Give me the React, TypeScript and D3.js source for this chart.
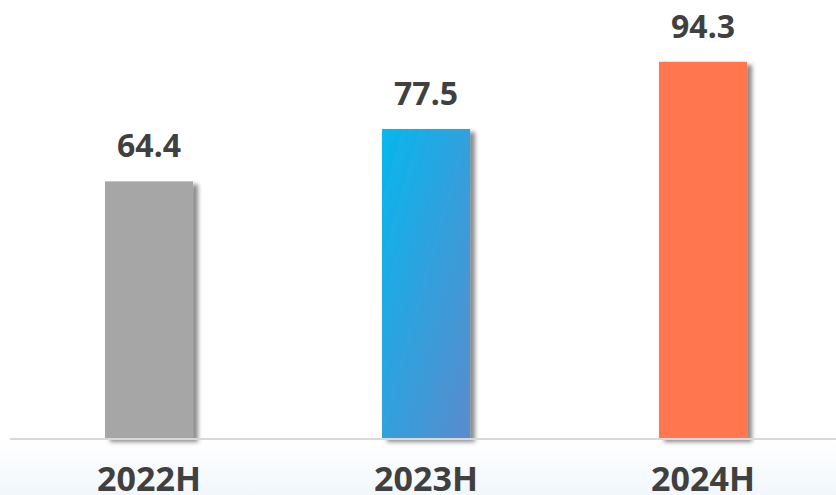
import React from "react";
import * as d3 from "d3";

const categories = ["2022H", "2023H", "2024H"];
const values = [64.4, 77.5, 94.3];
const valueLabels = ["64.4", "77.5", "94.3"];

const W = 836;
const H = 495;

export default function App() {
  const baseY = 439;
  const x = d3.scaleBand<string>().domain(categories).range([10.5, 841.5]).paddingInner(0.682).paddingOuter(0.341);
  const y = d3.scaleLinear().domain([0, 100]).range([baseY, baseY - 400]);
  const fills = ["#a6a6a6", "url(#blueGrad)", "#ff7650"];
  return (
    <svg width={W} height={H} style={{ position: "fixed", left: 0, top: 0, background: "#fff" }}
      fontFamily="'Noto Sans', 'Open Sans', sans-serif">
      <defs>
        <linearGradient id="blueGrad" x1="0" y1="0" x2="1" y2="1">
          <stop offset="0" stopColor="#08b6ee" />
          <stop offset="1" stopColor="#5b8bcc" />
        </linearGradient>
        <linearGradient id="bgGrad" x1="0" y1="0" x2="0" y2="1">
          <stop offset="0" stopColor="#ffffff" />
          <stop offset="1" stopColor="#f2f7fc" />
        </linearGradient>
        <filter id="shadow" x="-20%" y="-20%" width="150%" height="150%">
          <feDropShadow dx="5" dy="3" stdDeviation="2" floodColor="#000" floodOpacity="0.45" />
        </filter>
      </defs>
      <rect x={0} y={baseY} width={W} height={H - baseY} fill="url(#bgGrad)" />
      {categories.map((c, i) => (
        <rect key={c} x={x(c)} y={y(values[i])} width={x.bandwidth()} height={baseY - y(values[i])}
          fill={fills[i]} filter="url(#shadow)" />
      ))}
      <line x1={10} x2={W} y1={baseY} y2={baseY} stroke="#d9d9d9" strokeWidth={2} />
      {categories.map((c, i) => (
        <text key={"v" + c} x={(x(c) as number) + x.bandwidth() / 2} y={y(values[i]) - 24}
          textAnchor="middle" fontSize={32} fontWeight={700} fill="#404040">{valueLabels[i]}</text>
      ))}
      {categories.map((c) => (
        <text key={"c" + c} x={(x(c) as number) + x.bandwidth() / 2} y={491}
          textAnchor="middle" fontSize={34} fontWeight={700} fill="#404040">{c}</text>
      ))}
    </svg>
  );
}
